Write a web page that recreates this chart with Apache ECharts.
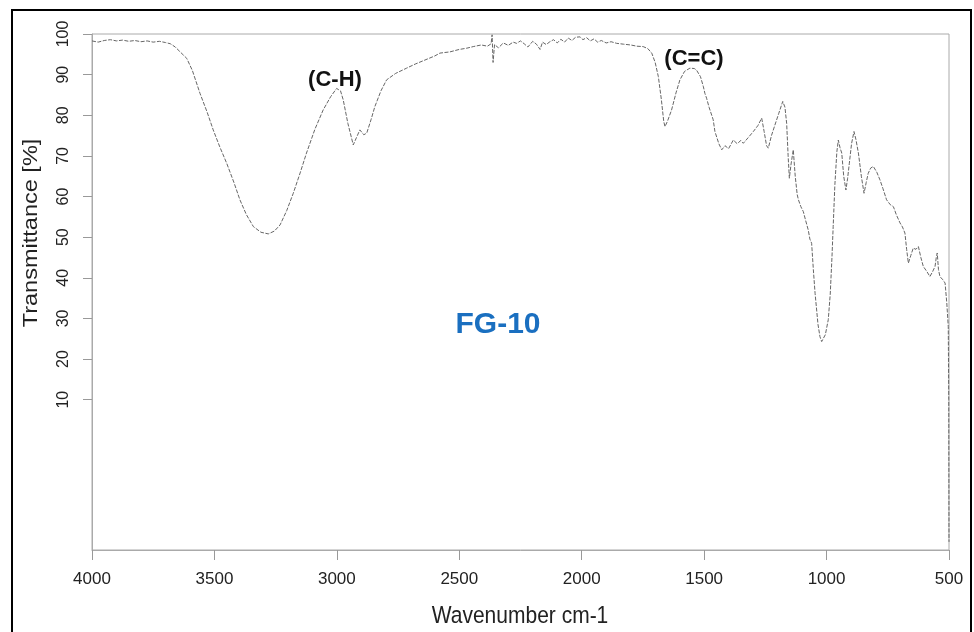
<!DOCTYPE html>
<html>
<head>
<meta charset="utf-8">
<script src="https://cdn.jsdelivr.net/npm/echarts@6/dist/echarts.min.js"></script>
<style>html,body{margin:0;padding:0;background:#fff;}#c{width:974px;height:632px;}</style>
</head>
<body>
<div id="c"></div>
<script>
const wavenumbers = [4000,3975,3950,3925,3900,3875,3850,3825,3800,3775,3750,3725,3700,3680,3660,3640,3613,3590,3559,3530,3505,3478,3450,3420,3396,3370,3341,3310,3280,3255,3232,3205,3178,3150,3124,3090,3056,3025,3001,2985,2974,2955,2933,2920,2906,2890,2878,2860,2845,2820,2797,2760,2715,2680,2640,2600,2579,2538,2500,2470,2443,2410,2385,2370,2366,2362,2356,2340,2320,2300,2280,2266,2250,2235,2220,2200,2185,2170,2160,2145,2130,2115,2100,2085,2070,2055,2040,2025,2007,1995,1980,1965,1950,1935,1920,1900,1880,1857,1830,1800,1775,1749,1730,1714,1700,1687,1675,1665,1660,1650,1633,1615,1599,1580,1558,1540,1531,1515,1503,1497,1490,1480,1463,1456,1440,1428,1415,1400,1381,1365,1350,1340,1320,1299,1280,1265,1255,1245,1238,1225,1211,1195,1179,1170,1163,1157,1152,1145,1136,1128,1120,1115,1105,1095,1085,1075,1068,1061,1054,1047,1035,1027,1020,1005,993,985,978,973,966,958,952,945,938,930,921,914,907,898,888,880,870,858,847,838,830,820,809,795,782,770,755,740,727,715,700,690,680,673,666,656,646,635,625,615,605,590,578,567,557,552,548,543,537,525,516,509,503,501,500];
const transmittance = [98.3,98.0,98.4,98.6,98.3,98.5,98.2,98.4,98.1,98.3,98.0,98.2,97.9,97.6,96.8,95.6,94.0,91.0,85.4,80.8,76.4,72.2,68.2,63.4,59.2,55.6,52.6,51.2,50.8,51.5,53.0,56.5,60.8,65.8,70.7,76.5,81.3,84.6,86.6,86.0,83.8,78.0,72.7,74.5,76.4,75.2,75.6,79.0,82.1,86.0,88.7,90.3,91.6,92.6,93.6,94.6,95.3,95.6,96.2,96.5,96.9,97.3,97.0,97.6,99.8,93.0,97.4,96.6,97.8,97.2,98.0,97.7,98.3,97.6,96.8,98.2,97.5,96.2,98.0,97.4,98.1,98.6,97.8,98.7,98.0,99.0,98.4,99.2,99.3,98.6,99.1,98.3,98.8,98.0,98.4,97.8,98.1,97.7,97.5,97.3,97.0,96.9,96.4,95.3,93.0,89.5,84.0,78.5,77.2,78.5,81.3,85.5,88.7,90.8,91.6,91.5,91.1,89.5,87.0,85.4,84.2,82.0,78.9,76.0,73.0,71.5,72.5,71.8,73.9,73.0,73.8,73.1,74.5,76.0,77.5,79.3,76.0,72.5,71.9,75.0,77.6,80.5,83.4,82.0,78.0,70.0,64.5,68.0,71.5,65.0,60.5,59.2,57.5,56.3,54.0,51.8,49.5,48.5,42.0,36.2,28.5,25.5,24.3,26.0,29.7,36.0,45.0,52.6,63.0,71.0,73.9,72.0,70.7,65.0,61.6,64.5,68.2,73.0,76.0,74.0,70.7,65.0,60.8,63.5,65.7,67.0,67.4,66.0,64.1,62.0,59.2,58.0,57.5,55.5,53.5,52.5,51.0,47.0,43.6,45.5,47.3,47.0,47.7,45.0,42.8,41.5,40.3,41.5,42.8,45.0,46.1,42.0,40.3,39.5,38.7,33.8,28.0,10.0,-25.0];
const yTickValues = [10,20,30,40,50,60,70,80,90,100];
const xAxisTitle = 'Wavenumber cm-1';
const yAxisTitle = 'Transmittance [%]';
const sampleLabel = 'FG-10';
const peakLabels = ['(C-H)', '(C=C)'];

const FONT = "'Liberation Sans', Arial, sans-serif";
const chart = echarts.init(document.getElementById('c'), null, {renderer: 'canvas'});
const seriesData = wavenumbers.map((w, i) => [w, transmittance[i]]);

chart.setOption({
  animation: false,
  backgroundColor: '#fff',
  grid: {left: 92, right: 25, top: 34, bottom: 82, show: true, borderColor: '#aaa', borderWidth: 1},
  xAxis: {
    type: 'value', inverse: true, min: 500, max: 4000, interval: 500,
    axisLine: {show: true, onZero: false, lineStyle: {color: '#aaa', width: 1}},
    axisTick: {show: true, inside: false, length: 10, lineStyle: {color: '#999'}},
    axisLabel: {fontFamily: FONT, fontSize: 17, color: '#222', margin: 21, formatter: v => String(v)},
    splitLine: {show: false}
  },
  yAxis: {
    type: 'value', min: -27, max: 100,
    axisLine: {show: true, onZero: false, lineStyle: {color: '#aaa', width: 1}},
    axisTick: {show: true, length: 9, customValues: yTickValues, lineStyle: {color: '#999'}},
    axisLabel: {fontFamily: FONT, fontSize: 16, color: '#222', rotate: 90, margin: 20, customValues: yTickValues, formatter: v => String(v)},
    splitLine: {show: false}
  },
  series: [{
    type: 'line', data: seriesData, showSymbol: false, smooth: false,
    lineStyle: {color: '#666', width: 1, type: [4, 1.5]}
  }],
  graphic: [
    {type: 'rect', shape: {x: 12, y: 10, width: 959, height: 640}, style: {fill: 'none', stroke: '#000', lineWidth: 2}, silent: true},
    {type: 'text', x: 520, y: 617, scaleY: 1.12, style: {text: xAxisTitle, font: "21px " + FONT, fill: '#222', textAlign: 'center', textVerticalAlign: 'middle'}},
    {type: 'text', x: 31, y: 233, rotation: Math.PI / 2, scaleX: 1.12, style: {text: yAxisTitle, font: "21px " + FONT, fill: '#222', textAlign: 'center', textVerticalAlign: 'middle'}},
    {type: 'text', x: 498, y: 325, style: {text: sampleLabel, font: "bold 30px " + FONT, fill: '#1a6fc0', textAlign: 'center', textVerticalAlign: 'middle'}},
    {type: 'text', x: 335, y: 80, style: {text: peakLabels[0], font: "bold 22px " + FONT, fill: '#111', textAlign: 'center', textVerticalAlign: 'middle'}},
    {type: 'text', x: 694, y: 59, style: {text: peakLabels[1], font: "bold 22px " + FONT, fill: '#111', textAlign: 'center', textVerticalAlign: 'middle'}}
  ]
});
</script>
</body>
</html>
